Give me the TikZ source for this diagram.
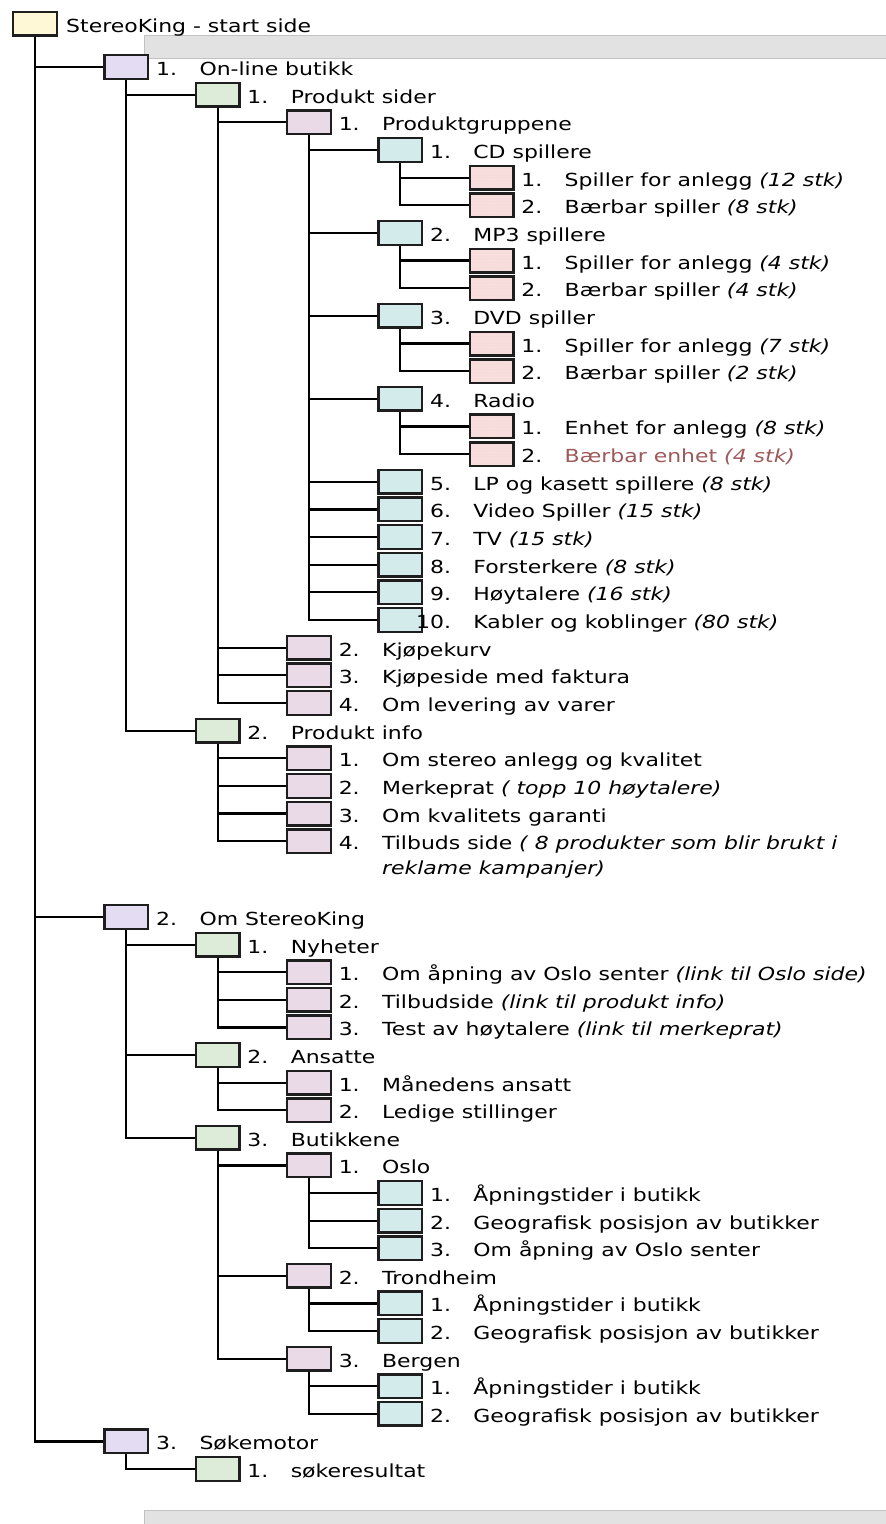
\documentclass[tikz,border=0pt]{standalone}
\usepackage{fontspec}
\setmainfont{DejaVu Sans}[FakeStretch=1.22]
\usetikzlibrary{patterns}
\definecolor{cRoot}{HTML}{FFF8D6}
\definecolor{cLav}{HTML}{E3DCF2}
\definecolor{cGreen}{HTML}{DDEBD9}
\definecolor{cPink}{HTML}{EAD9E6}
\definecolor{cCyan}{HTML}{D4EBEB}
\definecolor{cDot}{HTML}{F6DCDA}
\definecolor{cDotL}{HTML}{FFF4F2}
\definecolor{boxline}{HTML}{1E1E1E}
\definecolor{barfill}{HTML}{E2E2E2}
\definecolor{barline}{HTML}{C2C2C2}
\definecolor{redtxt}{HTML}{9E5A5A}
\tikzset{
  box/.style={draw=boxline, line width=2.4pt, minimum width=43.6pt, minimum height=23.6pt, inner sep=0pt},
  lv0/.style={fill=cRoot},
  lv1/.style={fill=cLav},
  lv2/.style={fill=cGreen},
  lv3/.style={fill=cPink},
  lv4/.style={fill=cCyan},
  lv5/.style={preaction={fill=cDot}, preaction={pattern=dots, pattern color=cDotL}},
  txt/.style={inner sep=0pt, font=\fontsize{18}{20}\selectfont},
  numtxt/.style={txt, anchor=base east},
  lbl/.style={txt, anchor=base west},
  conn/.style={line width=2.2pt, draw=black},
  bar/.style={fill=barfill, draw=barline, line width=1pt},
}
% #1 name, #2 level, #3 y, #4 style, #5 number, #6 text
\newcommand\bx[6]{%
  \node[box,#4] (#1) at ({35+91.3*#2},{#3}) {};
  \node[numtxt] (#1n) at ([xshift=28pt,yshift=-8.5pt]#1.east) {#5};
  \node[lbl] (#1t) at ([xshift=50pt,yshift=-8.5pt]#1.east) {#6};
}
\begin{document}
\begin{tikzpicture}[x=1pt,y=-1pt]
\useasboundingbox (0,0) rectangle (886,1524);
\fill[white] (0,0) rectangle (886,1524);
% gray bars
\path[bar] (144,35) rectangle (887,58);
\path[bar] (144,1510) rectangle (887,1526);

% root
\node[box,lv0] (root) at (35,23.5) {};
\node[lbl] (roott) at ([xshift=8pt,yshift=-8.5pt]root.east) {StereoKing - start side};

% section 1
\bx{r1}{1}{67}{lv1}{1.}{On-line butikk}
\bx{r2}{2}{94.65}{lv2}{1.}{Produkt sider}
\bx{r3}{3}{122.3}{lv3}{1.}{Produktgruppene}
\bx{r4}{4}{149.95}{lv4}{1.}{CD spillere}
\bx{r5}{5}{177.6}{lv5}{1.}{Spiller for anlegg \textit{(12 stk)}}
\bx{r6}{5}{205.25}{lv5}{2.}{Bærbar spiller \textit{(8 stk)}}
\bx{r7}{4}{232.9}{lv4}{2.}{MP3 spillere}
\bx{r8}{5}{260.55}{lv5}{1.}{Spiller for anlegg \textit{(4 stk)}}
\bx{r9}{5}{288.2}{lv5}{2.}{Bærbar spiller \textit{(4 stk)}}
\bx{r10}{4}{315.85}{lv4}{3.}{DVD spiller}
\bx{r11}{5}{343.5}{lv5}{1.}{Spiller for anlegg \textit{(7 stk)}}
\bx{r12}{5}{371.15}{lv5}{2.}{Bærbar spiller \textit{(2 stk)}}
\bx{r13}{4}{398.8}{lv4}{4.}{Radio}
\bx{r14}{5}{426.45}{lv5}{1.}{Enhet for anlegg \textit{(8 stk)}}
\bx{r15}{5}{454.1}{lv5}{2.}{\textcolor{redtxt}{Bærbar enhet \textit{(4 stk)}}}
\bx{r16}{4}{481.75}{lv4}{5.}{LP og kasett spillere \textit{(8 stk)}}
\bx{r17}{4}{509.4}{lv4}{6.}{Video Spiller \textit{(15 stk)}}
\bx{r18}{4}{537.05}{lv4}{7.}{TV \textit{(15 stk)}}
\bx{r19}{4}{564.7}{lv4}{8.}{Forsterkere \textit{(8 stk)}}
\bx{r20}{4}{592.35}{lv4}{9.}{Høytalere \textit{(16 stk)}}
\bx{r21}{4}{620}{lv4}{10.}{Kabler og koblinger \textit{(80 stk)}}
\bx{r22}{3}{647.65}{lv3}{2.}{Kjøpekurv}
\bx{r23}{3}{675.3}{lv3}{3.}{Kjøpeside med faktura}
\bx{r24}{3}{702.95}{lv3}{4.}{Om levering av varer}
\bx{r25}{2}{730.6}{lv2}{2.}{Produkt info}
\bx{r26}{3}{758.25}{lv3}{1.}{Om stereo anlegg og kvalitet}
\bx{r27}{3}{785.9}{lv3}{2.}{Merkeprat \textit{( topp 10 høytalere)}}
\bx{r28}{3}{813.55}{lv3}{3.}{Om kvalitets garanti}
\bx{r29}{3}{841.2}{lv3}{4.}{Tilbuds side \textit{( 8 produkter som blir brukt i}}
\node[lbl] (r29u) at ([yshift=-25pt]r29t.base west) {\textit{reklame kampanjer)}};

% section 2
\bx{s0}{1}{917}{lv1}{2.}{Om StereoKing}
\bx{s1}{2}{944.6}{lv2}{1.}{Nyheter}
\bx{s2}{3}{972.2}{lv3}{1.}{Om åpning av Oslo senter \textit{(link til Oslo side)}}
\bx{s3}{3}{999.8}{lv3}{2.}{Tilbudside \textit{(link til produkt info)}}
\bx{s4}{3}{1027.4}{lv3}{3.}{Test av høytalere \textit{(link til merkeprat)}}
\bx{s5}{2}{1055}{lv2}{2.}{Ansatte}
\bx{s6}{3}{1082.6}{lv3}{1.}{Månedens ansatt}
\bx{s7}{3}{1110.2}{lv3}{2.}{Ledige stillinger}
\bx{s8}{2}{1137.8}{lv2}{3.}{Butikkene}
\bx{s9}{3}{1165.4}{lv3}{1.}{Oslo}
\bx{s10}{4}{1193}{lv4}{1.}{Åpningstider i butikk}
\bx{s11}{4}{1220.6}{lv4}{2.}{Geografisk posisjon av butikker}
\bx{s12}{4}{1248.2}{lv4}{3.}{Om åpning av Oslo senter}
\bx{s13}{3}{1275.8}{lv3}{2.}{Trondheim}
\bx{s14}{4}{1303.4}{lv4}{1.}{Åpningstider i butikk}
\bx{s15}{4}{1331}{lv4}{2.}{Geografisk posisjon av butikker}
\bx{s16}{3}{1358.6}{lv3}{3.}{Bergen}
\bx{s17}{4}{1386.2}{lv4}{1.}{Åpningstider i butikk}
\bx{s18}{4}{1413.8}{lv4}{2.}{Geografisk posisjon av butikker}
\bx{s19}{1}{1441.4}{lv1}{3.}{Søkemotor}
\bx{s20}{2}{1469}{lv2}{1.}{søkeresultat}

% connectors
\foreach \c in {r1,s0,s19} \draw[conn] (root.south) |- (\c.west);
\foreach \c in {r2,r25} \draw[conn] (r1.south) |- (\c.west);
\foreach \c in {r3,r22,r23,r24} \draw[conn] (r2.south) |- (\c.west);
\foreach \c in {r4,r7,r10,r13,r16,r17,r18,r19,r20,r21} \draw[conn] (r3.south) |- (\c.west);
\foreach \c in {r5,r6} \draw[conn] (r4.south) |- (\c.west);
\foreach \c in {r8,r9} \draw[conn] (r7.south) |- (\c.west);
\foreach \c in {r11,r12} \draw[conn] (r10.south) |- (\c.west);
\foreach \c in {r14,r15} \draw[conn] (r13.south) |- (\c.west);
\foreach \c in {r26,r27,r28,r29} \draw[conn] (r25.south) |- (\c.west);
\foreach \c in {s1,s5,s8} \draw[conn] (s0.south) |- (\c.west);
\foreach \c in {s2,s3,s4} \draw[conn] (s1.south) |- (\c.west);
\foreach \c in {s6,s7} \draw[conn] (s5.south) |- (\c.west);
\foreach \c in {s9,s13,s16} \draw[conn] (s8.south) |- (\c.west);
\foreach \c in {s10,s11,s12} \draw[conn] (s9.south) |- (\c.west);
\foreach \c in {s14,s15} \draw[conn] (s13.south) |- (\c.west);
\foreach \c in {s17,s18} \draw[conn] (s16.south) |- (\c.west);
\draw[conn] (s19.south) |- (s20.west);
\end{tikzpicture}
\end{document}
